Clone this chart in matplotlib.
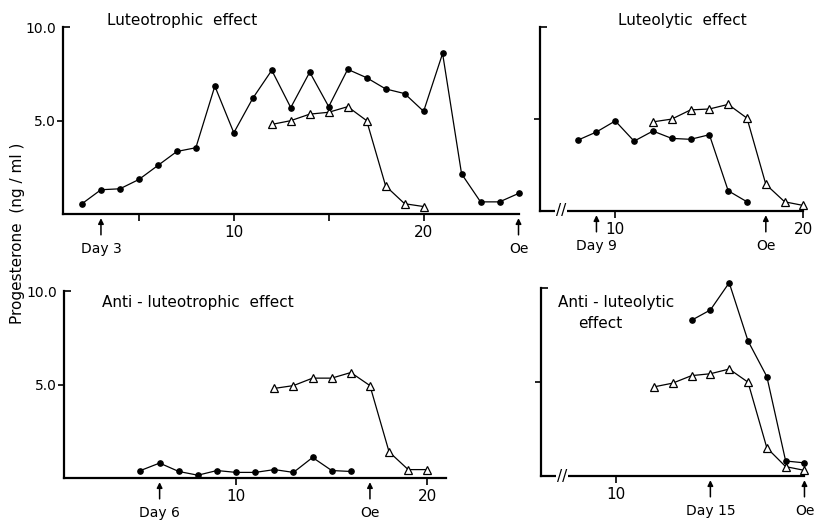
import matplotlib
matplotlib.use("Agg")
import matplotlib.pyplot as plt

W, H = 814, 521

# --- data (days of cycle, progesterone ng/ml) ---
# Luteotrophic effect
lt_treat_days = list(range(2, 26))
lt_treat = [0.55, 1.3, 1.35, 1.85, 2.6, 3.35, 3.55, 6.85, 4.35, 6.2, 7.7, 5.7,
            7.6, 5.75, 7.75, 7.3, 6.7, 6.45, 5.5, 8.6, 2.15, 0.65, 0.65, 1.1]
lt_ctrl_days = list(range(12, 21))
lt_ctrl = [4.8, 5.0, 5.35, 5.45, 5.75, 5.0, 1.5, 0.55, 0.4]

# Luteolytic effect
ll_treat_days = list(range(8, 18))
ll_treat = [3.85, 4.3, 4.9, 3.8, 4.35, 3.95, 3.9, 4.15, 1.1, 0.5]
ll_ctrl_days = list(range(12, 21))
ll_ctrl = [4.85, 5.0, 5.5, 5.55, 5.8, 5.05, 1.45, 0.5, 0.3]

# Anti-luteotrophic effect
alt_treat_days = list(range(5, 17))
alt_treat = [0.4, 0.8, 0.35, 0.15, 0.4, 0.3, 0.3, 0.45, 0.3, 1.1, 0.4, 0.35]
alt_ctrl_days = list(range(12, 21))
alt_ctrl = [4.8, 4.95, 5.35, 5.35, 5.65, 4.95, 1.4, 0.45, 0.45]

# Anti-luteolytic effect
all_treat_days = list(range(14, 21))
all_treat = [8.3, 8.85, 10.3, 7.2, 5.3, 0.8, 0.7]
all_ctrl_days = list(range(12, 21))
all_ctrl = [4.75, 4.95, 5.35, 5.45, 5.7, 5.0, 1.5, 0.5, 0.3]

# events marked with arrows
lt_events = [(3, "Day 3"), (25, "Oe")]
ll_events = [(9, "Day 9"), (18, "Oe")]
alt_events = [(6, "Day 6"), (17, "Oe")]
all_events = [(15, "Day 15"), (20, "Oe")]

plt.rcParams["font.family"] = "DejaVu Sans"
plt.rcParams["font.size"] = 10

fig = plt.figure(figsize=(W / 100, H / 100), dpi=100)


def px_rect(left, right, top, bottom):
    return [left / W, 1 - bottom / H, (right - left) / W, (bottom - top) / H]


def draw_panel(rect, xlim, xbound, xticks, xlabels, show_ylab, events,
               treat, ctrl, brk=None):
    ax = fig.add_axes(px_rect(*rect))
    ax.set_xlim(*xlim)
    ax.set_ylim(0, 10.5)
    for s in ("top", "right"):
        ax.spines[s].set_visible(False)
    for s in ("left", "bottom"):
        ax.spines[s].set_linewidth(1.6)
    ax.spines["bottom"].set_bounds(*xbound)
    ax.spines["left"].set_bounds(0, 10)

    ax.set_xticks(xticks, xlabels)
    ax.tick_params(axis="x", direction="out", length=5, width=1.2,
                   pad=3, labelsize=11)
    ax.set_yticks([5], ["5.0" if show_ylab else ""])
    ax.set_yticks([10], ["10.0" if show_ylab else ""], minor=True)
    ax.tick_params(axis="y", which="major", direction="out", length=4,
                   width=1.2, pad=1, labelsize=10)
    ax.tick_params(axis="y", which="minor", direction="in", length=5,
                   width=1.2, pad=5, labelsize=10)

    d, v = ctrl
    ax.plot(d, v, color="black", lw=0.9, marker="^", ms=5.5,
            mfc="white", mec="black", mew=0.9, clip_on=False, zorder=3)
    d, v = treat
    ax.plot(d, v, color="black", lw=0.9, marker="o", ms=3.8,
            clip_on=False, zorder=4)

    trans = ax.get_xaxis_transform()
    for day, lab in events:
        ax.annotate("", xy=(day, 0), xycoords=trans, xytext=(0, -15),
                    textcoords="offset points",
                    arrowprops=dict(arrowstyle="-|>", color="black", lw=1.1,
                                    shrinkA=0, shrinkB=3, mutation_scale=8))
        ax.annotate(lab, xy=(day, 0), xycoords=trans, xytext=(0, -25),
                    textcoords="offset points", ha="center", va="center",
                    fontsize=10)
    if brk is not None:
        ax.text(brk, 0, "//", transform=trans, ha="center", va="center",
                fontsize=11, clip_on=False,
                bbox=dict(facecolor="white", edgecolor="none", pad=0.5))
    return ax


draw_panel((63, 528, 18, 214), (1, 25.5), (1, 25), [5, 10, 15, 20],
           ["", "10", "", "20"], True, lt_events,
           (lt_treat_days, lt_treat), (lt_ctrl_days, lt_ctrl))
draw_panel((540, 811, 18, 211), (6, 20.4), (6, 20), [10, 20],
           ["10", "20"], False, ll_events,
           (ll_treat_days, ll_treat), (ll_ctrl_days, ll_ctrl), brk=7.1)
draw_panel((64, 456, 282, 478), (1, 21.5), (1, 21), [10, 20],
           ["10", "20"], True, alt_events,
           (alt_treat_days, alt_treat), (alt_ctrl_days, alt_ctrl))
draw_panel((541, 812, 279, 476), (6, 20.4), (6, 20), [10],
           ["10"], False, all_events,
           (all_treat_days, all_treat), (all_ctrl_days, all_ctrl), brk=7.1)

# panel titles
fig.text(182 / W, 1 - 20 / H, "Luteotrophic  effect", ha="center",
         va="center", fontsize=11)
fig.text(682 / W, 1 - 20 / H, "Luteolytic  effect", ha="center",
         va="center", fontsize=11)
fig.text(198 / W, 1 - 303 / H, "Anti - luteotrophic  effect",
         ha="center", va="center", fontsize=11)
fig.text(558 / W, 1 - 303 / H, "Anti - luteolytic", ha="left",
         va="center", fontsize=11)
fig.text(578 / W, 1 - 323 / H, "effect", ha="left", va="center",
         fontsize=11)

fig.text(18 / W, 1 - 233 / H, "Progesterone  (ng / ml )", rotation=90,
         ha="center", va="center", fontsize=11)

fig.savefig("out.png", dpi=100)
